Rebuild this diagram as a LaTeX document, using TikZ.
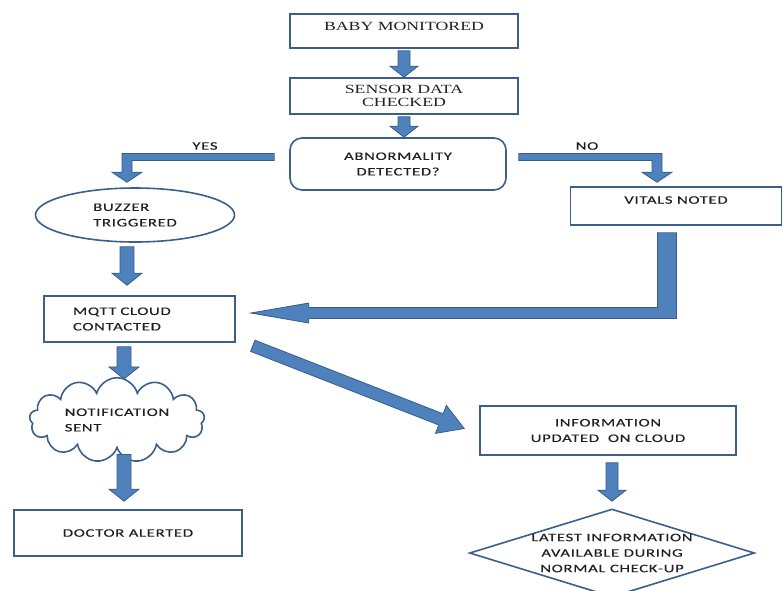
\documentclass[tikz,border=0pt]{standalone}
\usepackage{fontspec}
\usepackage{tikz}
\usetikzlibrary{shapes.geometric,shapes.symbols}
\usetikzlibrary{calc}

\newfontfamily\flowsans[FakeStretch=1.45,LetterSpace=6,FakeBold=0.3]{Carlito}
\newfontfamily\flowserif[FakeStretch=1.42]{Liberation Serif}
\definecolor{boxline}{RGB}{58,95,140}
\definecolor{arrowfill}{RGB}{79,129,189}
\definecolor{arrowline}{RGB}{56,93,138}
\definecolor{flowtext}{RGB}{32,32,32}

% straight block arrow: from, to, half shaft, half head, head length
\newcommand{\blockarrow}[5]{%
  \coordinate (ba-s) at (#1);
  \coordinate (ba-t) at (#2);
  \coordinate (ba-b) at ($(ba-t)!#5!(ba-s)$);
  \filldraw[fatarrow] ($(ba-s)!#3!90:(ba-t)$) -- ($(ba-b)!#3!90:(ba-t)$)
    -- ($(ba-b)!#4!90:(ba-t)$) -- (ba-t) -- ($(ba-b)!#4!-90:(ba-t)$)
    -- ($(ba-b)!#3!-90:(ba-t)$) -- ($(ba-s)!#3!-90:(ba-t)$) -- cycle;
}

\begin{document}
\begin{tikzpicture}[x=1pt,y=-1pt,
  every node/.style={text=flowtext, font=\flowsans\fontsize{11.5}{15.5}\selectfont, align=center},
  flowbox/.style={draw=boxline, line width=1.6pt, inner sep=2pt},
  serif/.style={font=\flowserif\fontsize{12.5}{12.5}\selectfont},
  fatarrow/.style={fill=arrowfill, draw=arrowline, line width=0.8pt, line join=miter}]
  \clip (0,0) rectangle (783,590);

  %boxes
  \node[flowbox, serif, minimum width=228pt, minimum height=34pt, text depth=10pt] (monitored) at (404,31) {BABY MONITORED};
  \node[flowbox, serif, minimum width=228pt, minimum height=36pt] (sensor) at (404,96) {SENSOR DATA\\CHECKED};
  \node[flowbox, rounded corners=12pt, minimum width=216pt, minimum height=52pt] (abnormal) at (398,164) {ABNORMALITY\\DETECTED?};
  \node[flowbox, ellipse, minimum width=199pt, minimum height=54pt, align=left] (buzzer) at (135,215) {BUZZER\\TRIGGERED};
  \node[flowbox, minimum width=211pt, minimum height=38pt, text depth=12pt] (vitals) at (676,206) {VITALS NOTED};
  \node[flowbox, minimum width=191pt, minimum height=46pt, text width=133pt, align=left] (mqtt) at (139.5,319) {MQTT CLOUD\\CONTACTED};
  \node[flowbox, cloud, cloud puffs=13, aspect=2.5, minimum width=175pt, minimum height=70pt, inner sep=0pt, align=left] (notify) at (117,420) {NOTIFICATION\\SENT};
  \node[flowbox, minimum width=228pt, minimum height=46pt] (doctor) at (128,533) {DOCTOR ALERTED};
  \node[flowbox, minimum width=256pt, minimum height=49pt] (info) at (608,430.5) {INFORMATION\\UPDATED~ ON CLOUD};
  \node[flowbox, diamond, minimum width=285pt, minimum height=88pt, inner sep=0pt,
    label={[align=center]center:{LATEST INFORMATION\\AVAILABLE DURING\\NORMAL CHECK-UP}}] (latest) at (612,553) {};

  \node (yes) at (205,146) {YES};
  \node (no) at (587,146) {NO};

  %straight arrows
  \blockarrow{$(monitored.south)+(0,2)$}{sensor.north}{6pt}{14pt}{11pt}
  \blockarrow{$(sensor.south)+(0,2)$}{sensor.south |- abnormal.north}{6pt}{14pt}{11pt}
  \blockarrow{$(buzzer.south)+(-8,4)$}{$(mqtt.north)+(-12.5,-10)$}{7pt}{15pt}{12pt}
  \blockarrow{$(mqtt.south)+(-15.5,4)$}{$(notify.north)+(7,2)$}{7pt}{15pt}{12pt}
  \blockarrow{$(notify.south)+(7,5)$}{$(doctor.north)+(-4,-8)$}{7pt}{15pt}{12pt}
  \blockarrow{$(info.south)+(4,7)$}{$(latest.north)+(0,-7)$}{6pt}{14pt}{11pt}
  \blockarrow{$(mqtt.south east)+(17,3)$}{$(info.west)+(-15,-2)$}{6pt}{15pt}{25pt}

  %yes branch
  \filldraw[fatarrow] let \p1=($(abnormal.west)+(-15,-7)$), \p2=($(buzzer.north)+(-8,-5)$) in
    (\x1,\y1+3.5pt) -- (\x2-5pt,\y1+3.5pt) -- (\x2-5pt,\y2+10pt) -- (\x2-15pt,\y2+10pt)
    -- (\x2,\y2) -- (\x2+15pt,\y2+10pt) -- (\x2+5pt,\y2+10pt) -- (\x2+5pt,\y1-3.5pt)
    -- (\x1,\y1-3.5pt) -- cycle;
  %no branch
  \filldraw[fatarrow] let \p1=($(abnormal.east)+(12,-7)$), \p2=($(vitals.north)+(-19,-4)$) in
    (\x1,\y1+3.5pt) -- (\x2+5pt,\y1+3.5pt) -- (\x2+5pt,\y2+10pt) -- (\x2+15pt,\y2+10pt)
    -- (\x2,\y2) -- (\x2-15pt,\y2+10pt) -- (\x2-5pt,\y2+10pt) -- (\x2-5pt,\y1-3.5pt)
    -- (\x1,\y1-3.5pt) -- cycle;
  %vitals back to mqtt
  \filldraw[fatarrow] let \p1=($(vitals.south)+(-9,7)$), \p2=($(mqtt.east)+(15,-6)$) in
    (\x1-9.5pt,\y1) -- (\x1+9.5pt,\y1) -- (\x1+9.5pt,\y2-5.5pt) -- (\x2+58pt,\y2-5.5pt)
    -- (\x2+58pt,\y2-10pt) -- (\x2,\y2) -- (\x2+58pt,\y2+10pt) -- (\x2+58pt,\y2+5.5pt)
    -- (\x1-9.5pt,\y2+5.5pt) -- cycle;
\end{tikzpicture}
\end{document}
